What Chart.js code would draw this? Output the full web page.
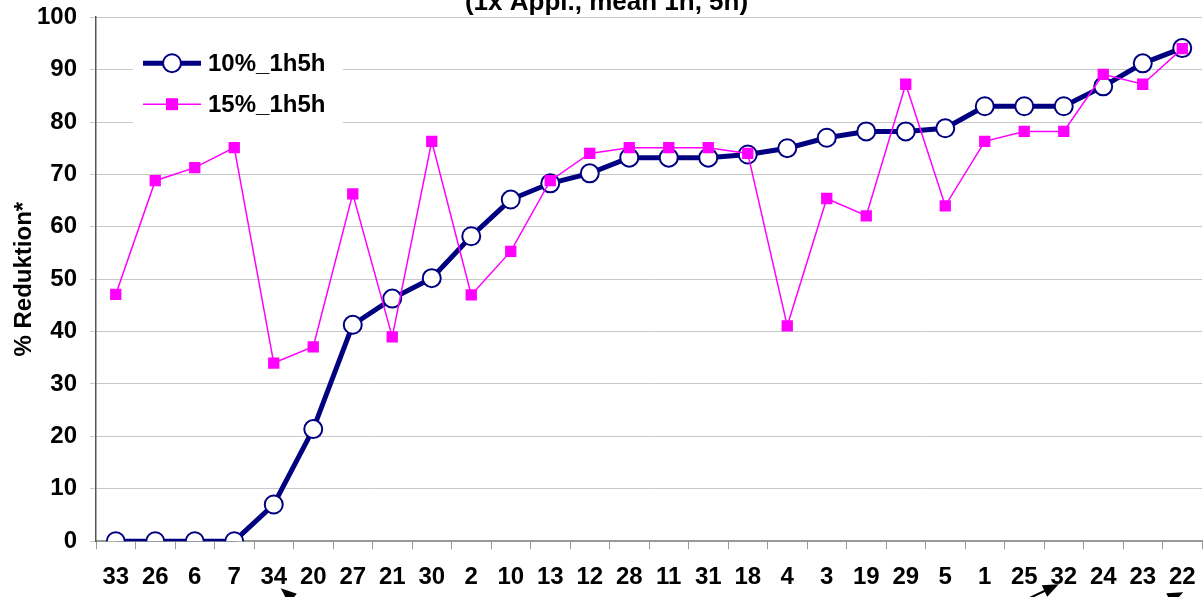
<!DOCTYPE html>
<html>
<head>
<meta charset="utf-8">
<script src="https://cdn.jsdelivr.net/npm/chart.js@4.4.0/dist/chart.umd.min.js"></script>
<style>
  html, body { margin: 0; padding: 0; background: #fff; overflow: hidden; }
  #wrap { position: absolute; left: 0; top: -36px; width: 1213px; height: 653px; }
</style>
</head>
<body>
<div id="wrap"><canvas id="chart"></canvas></div>
<script>
const categories = ['33', '26', '6', '7', '34', '20', '27', '21', '30', '2', '10', '13', '12', '28',
    '11', '31', '18', '4', '3', '19', '29', '5', '1', '25', '32', '24', '23', '22'];
const series10 = [0, 0, 0, 0, 7, 21.4, 41.3, 46.3, 50.2, 58.2, 65.2, 68.3, 70.2, 73.2,
    73.2, 73.2, 73.8, 75, 77, 78.2, 78.2, 78.8, 83, 83, 83, 86.8, 91.2, 94.1];
const series15 = [47.1, 68.8, 71.3, 75.1, 34, 37.1, 66.3, 39, 76.3, 47, 55.3, 68.8, 74, 75.1,
    75.1, 75.1, 74, 41.1, 65.4, 62.1, 87.2, 64, 76.3, 78.2, 78.2, 89.1, 87.2, 94];
const seriesLabels = ['10%_1h5h', '15%_1h5h'];
const chartTitle = '(1x Appl., mean 1h, 5h)';
const yTitle = '% Reduktion*';
const arrowTargets = ['34', '32', '22'];

const FONT = '"Liberation Sans", Arial, sans-serif';
const NAVY = '#000080';
const MAGENTA = '#ff00ff';

// legend drawn inside the plot, Excel style (line with marker in the middle)
const insideLegend = {
    id: 'insideLegend',
    afterDraw(chart) {
        const ctx = chart.ctx;
        const a = chart.chartArea;
        const x0 = a.left + 37, y0 = a.top + 23;
        ctx.save();
        ctx.fillStyle = '#fff';
        ctx.fillRect(x0, y0, 210, 86);
        chart.data.datasets.forEach((ds, i) => {
            const y = y0 + 23 + i * 41;
            const lx = x0 + 10, rx = x0 + 68, mx = (lx + rx) / 2;
            ctx.strokeStyle = ds.borderColor;
            ctx.lineWidth = ds.borderWidth;
            ctx.beginPath();
            ctx.moveTo(lx, y);
            ctx.lineTo(rx, y);
            ctx.stroke();
            ctx.fillStyle = ds.pointBackgroundColor;
            ctx.strokeStyle = ds.pointBorderColor;
            ctx.lineWidth = ds.pointBorderWidth;
            ctx.beginPath();
            if (ds.pointStyle === 'circle') {
                ctx.arc(mx, y, ds.pointRadius, 0, Math.PI * 2);
                ctx.fill();
                ctx.stroke();
            } else {
                ctx.fillRect(mx - 6, y - 6, 12, 12);
            }
            ctx.fillStyle = '#000';
            ctx.font = 'bold 24px ' + FONT;
            ctx.textBaseline = 'middle';
            ctx.fillText(ds.label, rx + 7, y + 1);
        });
        ctx.restore();
    }
};

// black pointer arrows under some of the x labels (tails run off the bottom)
const arrows = {
    id: 'arrows',
    afterDraw(chart) {
        const ctx = chart.ctx;
        const xs = chart.scales.x;
        const base = chart.chartArea.bottom;
        // [dx from label centre, dy below axis, tail dx, tail dy]
        const specs = [[7, 47, 30, 26], [-5, 43, -40, 19], [1, 51, -36, 17]];
        ctx.save();
        ctx.strokeStyle = '#000';
        ctx.fillStyle = '#000';
        ctx.lineWidth = 2;
        arrowTargets.forEach((t, i) => {
            const [dx, dy, ox, oy] = specs[i];
            const tx = xs.getPixelForValue(categories.indexOf(t)) + dx;
            const ty = base + dy;
            const ang = Math.atan2(oy, ox);
            ctx.beginPath();
            ctx.moveTo(tx + Math.cos(ang) * 10, ty + Math.sin(ang) * 10);
            ctx.lineTo(tx + ox, ty + oy);
            ctx.stroke();
            ctx.beginPath();
            ctx.moveTo(tx, ty);
            ctx.lineTo(tx + Math.cos(ang + 0.38) * 17, ty + Math.sin(ang + 0.38) * 17);
            ctx.lineTo(tx + Math.cos(ang - 0.38) * 17, ty + Math.sin(ang - 0.38) * 17);
            ctx.closePath();
            ctx.fill();
        });
        ctx.restore();
    }
};

new Chart(document.getElementById('chart'), {
    type: 'line',
    data: {
        labels: categories,
        datasets: [
            {
                label: seriesLabels[0],
                data: series10,
                borderColor: NAVY,
                borderWidth: 5,
                pointStyle: 'circle',
                pointRadius: 9,
                pointBorderWidth: 2,
                pointBackgroundColor: '#fff',
                pointBorderColor: NAVY,
                order: 2
            },
            {
                label: seriesLabels[1],
                data: series15,
                borderColor: MAGENTA,
                borderWidth: 1.5,
                pointStyle: 'rect',
                pointRadius: 8,
                pointBorderWidth: 0,
                pointBackgroundColor: MAGENTA,
                pointBorderColor: MAGENTA,
                order: 1
            }
        ]
    },
    options: {
        responsive: true,
        maintainAspectRatio: false,
        animation: false,
        layout: { padding: { left: 0, right: 0, top: 0, bottom: 11 } },
        plugins: {
            legend: { display: false },
            tooltip: { enabled: false },
            title: {
                display: true,
                text: chartTitle,
                color: '#000',
                font: { family: FONT, size: 26, weight: 'bold' },
                padding: { top: 23, bottom: -1 }
            }
        },
        scales: {
            x: {
                offset: true,
                grid: {
                    offset: true,
                    drawOnChartArea: false,
                    drawTicks: true,
                    tickLength: 8,
                    color: '#999'
                },
                border: { color: '#999', width: 2 },
                ticks: {
                    color: '#000',
                    padding: 14,
                    maxRotation: 0,
                    autoSkip: false,
                    font: { family: FONT, size: 24, weight: 'bold' }
                }
            },
            y: {
                min: 0,
                max: 100,
                afterFit(scale) { scale.width = 96; },
                grid: {
                    color: '#c8c8c8',
                    lineWidth: 1,
                    tickLength: 6
                },
                border: { color: '#555', width: 1.5 },
                ticks: {
                    stepSize: 10,
                    color: '#000',
                    padding: 13,
                    font: { family: FONT, size: 24, weight: 'bold' }
                },
                title: {
                    display: true,
                    text: yTitle,
                    color: '#000',
                    padding: { top: 10, bottom: 0 },
                    font: { family: FONT, size: 24, weight: 'bold' }
                }
            }
        }
    },
    plugins: [insideLegend, arrows]
});
</script>
</body>
</html>
